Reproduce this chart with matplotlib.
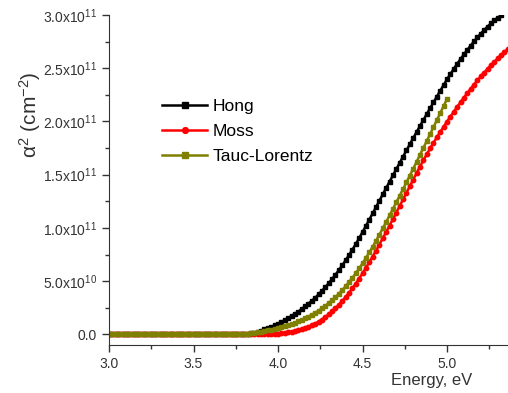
import numpy as np
import matplotlib
matplotlib.use('Agg')
from matplotlib import pyplot as plt
from matplotlib.ticker import MultipleLocator, FuncFormatter

plt.rcParams['font.family'] = ['Liberation Sans', 'DejaVu Sans']
plt.rcParams['mathtext.fontset'] = 'custom'
plt.rcParams['mathtext.rm'] = 'Liberation Sans'
plt.rcParams['mathtext.it'] = 'Liberation Sans:italic'

# alpha^2 values in units of 1e11 cm^-2, energy grid step 0.02 eV starting at 3.0 eV
hong = [0.0] * 40 + [
    0.000, 0.005, 0.010, 0.017, 0.026, 0.035, 0.046, 0.057, 0.070, 0.085,
    0.100, 0.117, 0.134, 0.153, 0.172, 0.193, 0.214, 0.237, 0.262, 0.288,
    0.315, 0.344, 0.375, 0.408, 0.443, 0.480, 0.519, 0.560, 0.603, 0.648,
    0.695, 0.744, 0.795, 0.848, 0.903, 0.960, 1.018, 1.077, 1.136, 1.195,
    1.255, 1.315, 1.375, 1.434, 1.493, 1.552, 1.611, 1.670, 1.728, 1.786,
    1.843, 1.900, 1.957, 2.013, 2.069, 2.124, 2.179, 2.234, 2.288, 2.342,
    2.395, 2.445, 2.494, 2.541, 2.586, 2.630, 2.672, 2.713, 2.752, 2.789,
    2.825, 2.859, 2.891, 2.921, 2.949, 2.974, 2.997]
moss = [0.0] * 45 + [
    0.000, 0.000, 0.001, 0.002, 0.004, 0.006, 0.009, 0.013, 0.018, 0.024,
    0.031, 0.039, 0.048, 0.059, 0.071, 0.085, 0.101, 0.119, 0.139, 0.162,
    0.187, 0.215, 0.246, 0.278, 0.313, 0.350, 0.390, 0.432, 0.477, 0.524,
    0.573, 0.625, 0.677, 0.731, 0.787, 0.844, 0.903, 0.962, 1.022, 1.083,
    1.144, 1.206, 1.268, 1.330, 1.392, 1.454, 1.515, 1.575, 1.634, 1.691,
    1.746, 1.799, 1.851, 1.901, 1.950, 1.998, 2.045, 2.091, 2.136, 2.180,
    2.224, 2.266, 2.307, 2.347, 2.386, 2.423, 2.459, 2.494, 2.528, 2.560,
    2.592, 2.622, 2.652, 2.681]
tauc = [0.0] * 37 + [
    0.000, 0.001, 0.002, 0.004, 0.007, 0.010, 0.014, 0.019, 0.025, 0.031,
    0.038, 0.045, 0.052, 0.060, 0.068, 0.077, 0.087, 0.098, 0.109, 0.122,
    0.135, 0.150, 0.167, 0.184, 0.203, 0.223, 0.245, 0.269, 0.294, 0.321,
    0.350, 0.382, 0.416, 0.452, 0.490, 0.531, 0.574, 0.619, 0.667, 0.717,
    0.769, 0.823, 0.879, 0.937, 0.996, 1.056, 1.117, 1.178, 1.240, 1.302,
    1.365, 1.428, 1.492, 1.556, 1.621, 1.686, 1.751, 1.816, 1.881, 1.947,
    2.013, 2.079, 2.145, 2.211]
labels = ['Hong', 'Moss', 'Tauc-Lorentz']
colors = ['black', 'red', '#808000']
markers = ['s', 'o', 's']


def energy(values):
    return 3.0 + 0.02 * np.arange(len(values))


def fmt(v, pos):
    if abs(v) < 1:
        return '0.0'
    exp = int(np.floor(np.log10(abs(v))))
    return '%.1fx10$^{%d}$' % (v / 10 ** exp, exp)


fig = plt.figure(figsize=(5.08, 3.93), dpi=100)
ax = fig.add_axes([109 / 508, 1 - 345 / 393, 399 / 508, 330 / 393])

for vals, lab, c, m in zip([hong, moss, tauc], labels, colors, markers):
    ax.plot(energy(vals), np.array(vals) * 1e11, color=c, marker=m,
            markersize=3.2, linewidth=1.8, label=lab)

ax.set_xlim(3.0, 3.0 + 399 / 169)
ax.set_ylim(-1e10, 3e11)
ax.spines['top'].set_visible(False)
ax.spines['right'].set_visible(False)
ax.xaxis.set_major_locator(MultipleLocator(0.5))
ax.xaxis.set_minor_locator(MultipleLocator(0.25))
ax.yaxis.set_major_locator(MultipleLocator(5e10))
ax.yaxis.set_minor_locator(MultipleLocator(2.5e10))
ax.yaxis.set_major_formatter(FuncFormatter(fmt))
ax.xaxis.set_major_formatter(FuncFormatter(lambda v, p: '%.1f' % v))
ax.tick_params(which='major', length=5, width=1, labelsize=10, colors='#333333')
ax.tick_params(which='minor', length=3, width=1, colors='#333333')
for s in ['left', 'bottom']:
    ax.spines[s].set_color('#333333')

fig.text(30 / 508, 1 - 115 / 393, 'α$^2$ (cm$^{-2}$)', fontsize=15,
         color='#333333', rotation=90, ha='center', va='center')
fig.text(432 / 508, 1 - 381 / 393, 'Energy, eV', fontsize=12, color='#333333',
         ha='center', va='center')

ax.legend(loc='upper left', bbox_to_anchor=(150 / 508, 1 - 87 / 393),
          bbox_transform=fig.transFigure, frameon=False, fontsize=12.5,
          handlelength=2.6, handletextpad=0.3, labelspacing=0.55,
          borderpad=0.2, markerscale=1.3)

plt.savefig('out.png', dpi=100)
